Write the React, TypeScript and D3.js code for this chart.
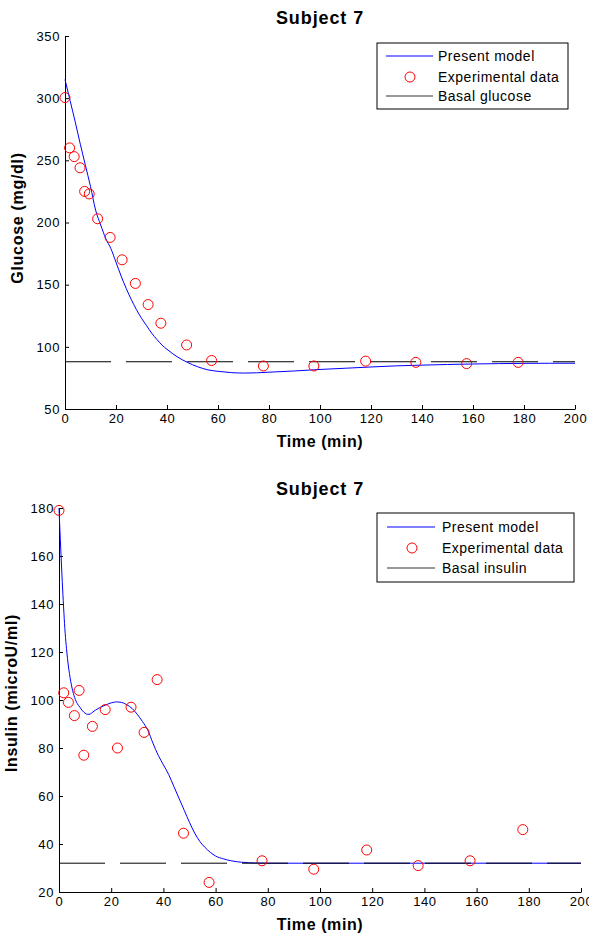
import { useRef, useEffect } from "react";
import * as d3 from "d3";

// sampling times (min) shared by both panels
const sampleTimes = [0, 1.8, 3.6, 5.9, 7.7, 9.5, 12.8, 17.7, 22.4, 27.6, 32.6, 37.6, 47.7, 57.5, 77.8, 97.6, 117.9, 137.6, 157.5, 177.7];
const glucoseData = [300.5, 260, 253, 244, 225, 223, 203, 188, 170, 151, 134, 119, 101.5, 89, 84.6, 84.6, 88.5, 87.5, 86.5, 87.5];
const insulinData = [179, 103, 99, 93.5, 104, 77, 89, 96, 80, 97, 86.5, 108.5, 44.5, 24, 33, 29.5, 37.5, 31, 33, 46];

const glucoseModelT = [0, 2, 4, 6, 8, 10, 12, 14, 16, 18, 20, 22, 24, 26, 28, 30, 32, 34, 36, 38, 40, 44, 48, 52, 56, 60, 65, 70, 75, 80, 90, 100, 110, 120, 130, 140, 150, 160, 170, 180, 190, 200];
const glucoseModel = [315, 298, 281, 263, 246, 229, 210, 198, 187, 179, 168, 157, 147, 138, 130, 123, 117, 111, 106, 101.5, 98, 92, 87.5, 84, 81.5, 80.3, 79.3, 78.9, 79.1, 79.6, 80.6, 81.8, 82.8, 83.8, 84.7, 85.3, 85.8, 86.2, 86.5, 86.7, 86.8, 86.8];

const insulinModelT = [0, 0.5, 1, 1.5, 2, 2.5, 3, 3.5, 4, 5, 6, 7, 8, 9, 10, 11, 12, 13, 14, 16, 18, 20, 22, 24, 26, 28, 30, 32, 34, 36, 38, 40, 42, 44, 46, 48, 50, 52, 54, 56, 58, 60, 63, 66, 70, 75, 80, 200];
const insulinModel = [180, 167, 155, 144, 134, 126, 120, 115, 111, 105, 101, 98.5, 97, 95.5, 94.5, 94, 94.2, 95, 95.8, 97, 98, 98.8, 99.2, 99, 98, 96.5, 94, 91, 87.5, 82, 77, 73, 69, 64, 59, 54, 49, 44.5, 41, 38.5, 36.5, 35, 33.8, 33, 32.4, 32.1, 32, 32];

const basalGlucose = 88;
const basalInsulin = 32;

const xTicks = [0, 20, 40, 60, 80, 100, 120, 140, 160, 180, 200];
const glucoseTicks = [50, 100, 150, 200, 250, 300, 350];
const insulinTicks = [20, 40, 60, 80, 100, 120, 140, 160, 180];

const legendLabels = ["Present model", "Experimental data"];

const FONT = "'Liberation Sans', Arial, Helvetica, sans-serif";

type PanelCfg = {
  top: number;
  left: number;
  right: number;
  bottom: number;
  yDomain: [number, number];
  yTicks: number[];
  modelT: number[];
  model: number[];
  data: number[];
  basal: number;
  yLabel: string;
  yLabelX: number;
  yLabelY: number;
  titleY: number;
  legend: { x0: number; x1: number; y0: number; y1: number; rows: number[]; lineX0: number; lineX1: number; circleX: number; textX: number };
  basalLabel: string;
};

const drawPanel = (svg: d3.Selection<SVGSVGElement, unknown, null, undefined>, p: PanelCfg) => {
  const x = d3.scaleLinear().domain([0, 200]).range([p.left, p.right]);
  const y = d3.scaleLinear().domain(p.yDomain).range([p.bottom, p.top]);
  const g = svg.append("g");

  // x axis, MATLAB-like inward ticks
  const xa = g
    .append("g")
    .attr("transform", `translate(0,${p.bottom})`)
    .call(d3.axisBottom(x).tickValues(xTicks).tickSize(-4).tickSizeOuter(0).tickPadding(5));
  const ya = g
    .append("g")
    .attr("transform", `translate(${p.left},0)`)
    .call(d3.axisLeft(y).tickValues(p.yTicks).tickSize(-4).tickSizeOuter(0).tickPadding(5));
  [xa, ya].forEach((a) => {
    a.selectAll("text").attr("font-family", FONT).attr("font-size", 13).attr("fill", "#000").style("letter-spacing", "0.6px");
    a.selectAll("line,path").attr("stroke", "#000");
    a.attr("font-family", null).attr("font-size", null);
  });

  // model curve
  const line = d3
    .line<number>()
    .x((_, i) => x(p.modelT[i]))
    .y((d) => y(d))
    .curve(d3.curveMonotoneX);
  g.append("path").attr("d", line(p.model)).attr("fill", "none").attr("stroke", "#0000ff").attr("stroke-width", 1);

  // basal level
  g.append("line")
    .attr("x1", x(0))
    .attr("x2", x(200))
    .attr("y1", y(p.basal))
    .attr("y2", y(p.basal))
    .attr("stroke", "#000")
    .attr("stroke-width", 1)
    .attr("stroke-dasharray", "46,15");

  // experimental points
  g.selectAll("circle.pt")
    .data(p.data)
    .enter()
    .append("circle")
    .attr("class", "pt")
    .attr("cx", (_, i) => x(sampleTimes[i]))
    .attr("cy", (d) => y(d))
    .attr("r", 5)
    .attr("fill", "none")
    .attr("stroke", "#ff0000")
    .attr("stroke-width", 1);

  // titles
  g.append("text")
    .attr("x", 320)
    .attr("y", p.titleY)
    .attr("text-anchor", "middle")
    .attr("font-family", FONT)
    .attr("font-weight", "bold")
    .attr("font-size", 18)
    .style("letter-spacing", "0.9px")
    .text("Subject 7");

  g.append("text")
    .attr("x", 320)
    .attr("y", p.bottom + 38)
    .attr("text-anchor", "middle")
    .attr("font-family", FONT)
    .attr("font-weight", "bold")
    .attr("font-size", 16)
    .style("letter-spacing", "0.6px")
    .text("Time (min)");

  g.append("text")
    .attr("transform", `translate(${p.yLabelX},${p.yLabelY}) rotate(-90)`)
    .attr("text-anchor", "middle")
    .attr("font-family", FONT)
    .attr("font-weight", "bold")
    .attr("font-size", 16)
    .style("letter-spacing", "0.7px")
    .text(p.yLabel);

  // legend
  const L = p.legend;
  const lg = g.append("g");
  lg.append("rect")
    .attr("x", L.x0)
    .attr("y", L.y0)
    .attr("width", L.x1 - L.x0)
    .attr("height", L.y1 - L.y0)
    .attr("fill", "#fff")
    .attr("stroke", "#000");
  const labels = [...legendLabels, p.basalLabel];
  labels.forEach((lab, i) => {
    const ry = L.rows[i];
    if (i === 0 || i === 2) {
      lg.append("line")
        .attr("x1", L.lineX0)
        .attr("x2", L.lineX1)
        .attr("y1", ry)
        .attr("y2", ry)
        .attr("stroke", i === 0 ? "#0000ff" : "#333")
        .attr("stroke-width", 1);
    } else {
      lg.append("circle").attr("cx", L.circleX).attr("cy", ry).attr("r", 5).attr("fill", "none").attr("stroke", "#ff0000");
    }
    lg.append("text")
      .attr("x", L.textX)
      .attr("y", ry)
      .attr("dy", "0.35em")
      .attr("font-family", FONT)
      .attr("font-size", 14)
      .style("letter-spacing", "0.5px")
      .text(lab);
  });
};

const App = () => {
  const ref = useRef<SVGSVGElement | null>(null);

  useEffect(() => {
    if (ref.current === null) return;
    const svg = d3.select(ref.current);
    svg.selectAll("*").remove();

    drawPanel(svg, {
      top: 36,
      left: 65,
      right: 575,
      bottom: 409,
      yDomain: [50, 350],
      yTicks: glucoseTicks,
      modelT: glucoseModelT,
      model: glucoseModel,
      data: glucoseData,
      basal: basalGlucose,
      yLabel: "Glucose (mg/dl)",
      yLabelX: 23,
      yLabelY: 218,
      titleY: 24,
      legend: { x0: 377, x1: 568, y0: 43, y1: 109, rows: [56, 77, 96], lineX0: 386, lineX1: 433, circleX: 410, textX: 438 },
      basalLabel: "Basal glucose",
    });

    drawPanel(svg, {
      top: 508,
      left: 59,
      right: 581,
      bottom: 892,
      yDomain: [20, 180],
      yTicks: insulinTicks,
      modelT: insulinModelT,
      model: insulinModel,
      data: insulinData,
      basal: basalInsulin,
      yLabel: "Insulin (microU/ml)",
      yLabelX: 17,
      yLabelY: 693,
      titleY: 495,
      legend: { x0: 377, x1: 574, y0: 513, y1: 582, rows: [527, 548, 568], lineX0: 387, lineX1: 435, circleX: 412, textX: 442 },
      basalLabel: "Basal insulin",
    });
  }, []);

  return (
    <svg
      ref={ref}
      width={589}
      height={936}
      style={{ position: "absolute", left: 0, top: 0, background: "#fff" }}
    />
  );
};

export default App;
